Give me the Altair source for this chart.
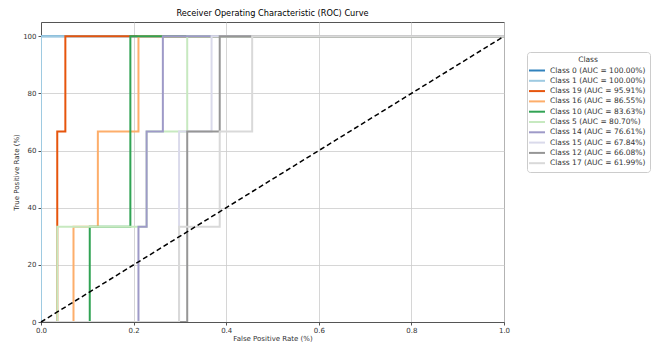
import altair as alt
import pandas as pd

# Legend order / labels
classes = ["Class 0", "Class 1", "Class 19", "Class 16", "Class 10",
           "Class 5", "Class 14", "Class 15", "Class 12", "Class 17"]
aucs = [100.00, 100.00, 95.91, 86.55, 83.63, 80.70, 76.61, 67.84, 66.08, 61.99]
colors = ["#3182bd", "#9ecae1", "#e6550d", "#fdae6b", "#31a354",
          "#c7e9c0", "#9e9ac8", "#dadaeb", "#969696", "#d9d9d9"]

# ROC points per class (FPR fraction, TPR %)
fpr_c0 = [0.0, 0.0, 1.0]
tpr_c0 = [0.0, 100.0, 100.0]
fpr_c1 = [0.0, 0.0, 1.0]
tpr_c1 = [0.0, 100.0, 100.0]
fpr_c19 = [0.0, 0.0351, 0.0351, 0.0526, 0.0526, 1.0]
tpr_c19 = [0.0, 0.0, 66.67, 66.67, 100.0, 100.0]
fpr_c16 = [0.0, 0.0702, 0.0702, 0.1228, 0.1228, 0.2105, 0.2105, 1.0]
tpr_c16 = [0.0, 0.0, 33.33, 33.33, 66.67, 66.67, 100.0, 100.0]
fpr_c10 = [0.0, 0.1053, 0.1053, 0.1930, 0.1930, 1.0]
tpr_c10 = [0.0, 0.0, 33.33, 33.33, 100.0, 100.0]
fpr_c5 = [0.0, 0.0351, 0.0351, 0.2281, 0.2281, 0.3158, 0.3158, 1.0]
tpr_c5 = [0.0, 0.0, 33.33, 33.33, 66.67, 66.67, 100.0, 100.0]
fpr_c14 = [0.0, 0.2105, 0.2105, 0.2281, 0.2281, 0.2632, 0.2632, 1.0]
tpr_c14 = [0.0, 0.0, 33.33, 33.33, 66.67, 66.67, 100.0, 100.0]
fpr_c15 = [0.0, 0.2982, 0.2982, 0.3684, 0.3684, 1.0]
tpr_c15 = [0.0, 0.0, 66.67, 66.67, 100.0, 100.0]
fpr_c12 = [0.0, 0.3158, 0.3158, 0.3860, 0.3860, 1.0]
tpr_c12 = [0.0, 0.0, 66.67, 66.67, 100.0, 100.0]
fpr_c17 = [0.0, 0.2982, 0.2982, 0.3860, 0.3860, 0.4561, 0.4561, 1.0]
tpr_c17 = [0.0, 0.0, 33.33, 33.33, 66.67, 66.67, 100.0, 100.0]

curves = [(fpr_c0, tpr_c0), (fpr_c1, tpr_c1), (fpr_c19, tpr_c19),
          (fpr_c16, tpr_c16), (fpr_c10, tpr_c10), (fpr_c5, tpr_c5),
          (fpr_c14, tpr_c14), (fpr_c15, tpr_c15), (fpr_c12, tpr_c12),
          (fpr_c17, tpr_c17)]

diag_x = [0.0, 1.0]
diag_y = [0.0, 100.0]

labels = [f"{c} (AUC = {a:.2f}%)" for c, a in zip(classes, aucs)]

rows = []
for lab, (fx, ty) in zip(labels, curves):
    for i, (a, b) in enumerate(zip(fx, ty)):
        rows.append({"label": lab, "fpr": a, "tpr": b, "i": i})
df = pd.DataFrame(rows)
ddf = pd.DataFrame({"fpr": diag_x, "tpr": diag_y})

FONT = "DejaVu Sans"

xs = alt.X("fpr:Q", scale=alt.Scale(domain=[0, 1], nice=False, zero=False),
           axis=alt.Axis(title="False Positive Rate (%)", values=[0, 0.2, 0.4, 0.6, 0.8, 1.0],
                         format=".1f", labelFlush=False, titlePadding=1, labelPadding=1))
ys = alt.Y("tpr:Q", scale=alt.Scale(domain=[0, 105], nice=False),
           axis=alt.Axis(title="True Positive Rate (%)", values=[0, 20, 40, 60, 80, 100],
                         labelFlush=False, titlePadding=3))

color = alt.Color("label:N",
                  scale=alt.Scale(domain=labels, range=colors),
                  sort=labels,
                  legend=alt.Legend(title="Class", orient="none", legendX=486, legendY=30,
                                    symbolType="M-1.6,0L1.6,0", symbolStrokeWidth=2, symbolSize=100,
                                    symbolOffset=0,
                                    labelFontSize=7.5, titleFontSize=7.5, titleFontWeight="normal",
                                    titleAnchor="middle", titleAlign="center",
                                    padding=4, rowPadding=0.3, strokeColor="#cccccc",
                                    cornerRadius=3, fillColor="white", labelOffset=7,
                                    titlePadding=1))

base = alt.Chart(df)
layers = []
for lab in labels:
    layers.append(
        base.transform_filter(alt.datum.label == lab)
        .mark_line(strokeWidth=2, clip=True)
        .encode(x=xs, y=ys, color=color, order="i:Q")
    )

diag = alt.Chart(ddf).mark_line(color="black", strokeDash=[5, 3], strokeWidth=1.5).encode(
    x=alt.X("fpr:Q"), y=alt.Y("tpr:Q"))

chart = alt.layer(*layers, diag).properties(
    width=463, height=300,
    title=alt.TitleParams("Receiver Operating Characteristic (ROC) Curve",
                          fontSize=8.2, font=FONT, fontWeight="normal", anchor="middle",
                          offset=4, color="black"),
    autosize=alt.AutoSizeParams(type="none"),
    padding={"left": 41, "top": 22, "right": 148, "bottom": 22},
).configure_axis(
    labelFont=FONT, titleFont=FONT, labelFontSize=7, titleFontSize=7,
    titleFontWeight="normal", labelColor="#333", titleColor="#333",
    gridColor="#cccccc", gridWidth=0.8, domainColor="#555", tickColor="#555",
    tickSize=3, labelPadding=2, zindex=1,
).configure_legend(
    labelFont=FONT, titleFont=FONT, labelColor="#333", titleColor="#333"
).configure_view(stroke="#555", strokeWidth=1)

chart.save("out.html", embed_options={"renderer": "svg", "actions": False})
